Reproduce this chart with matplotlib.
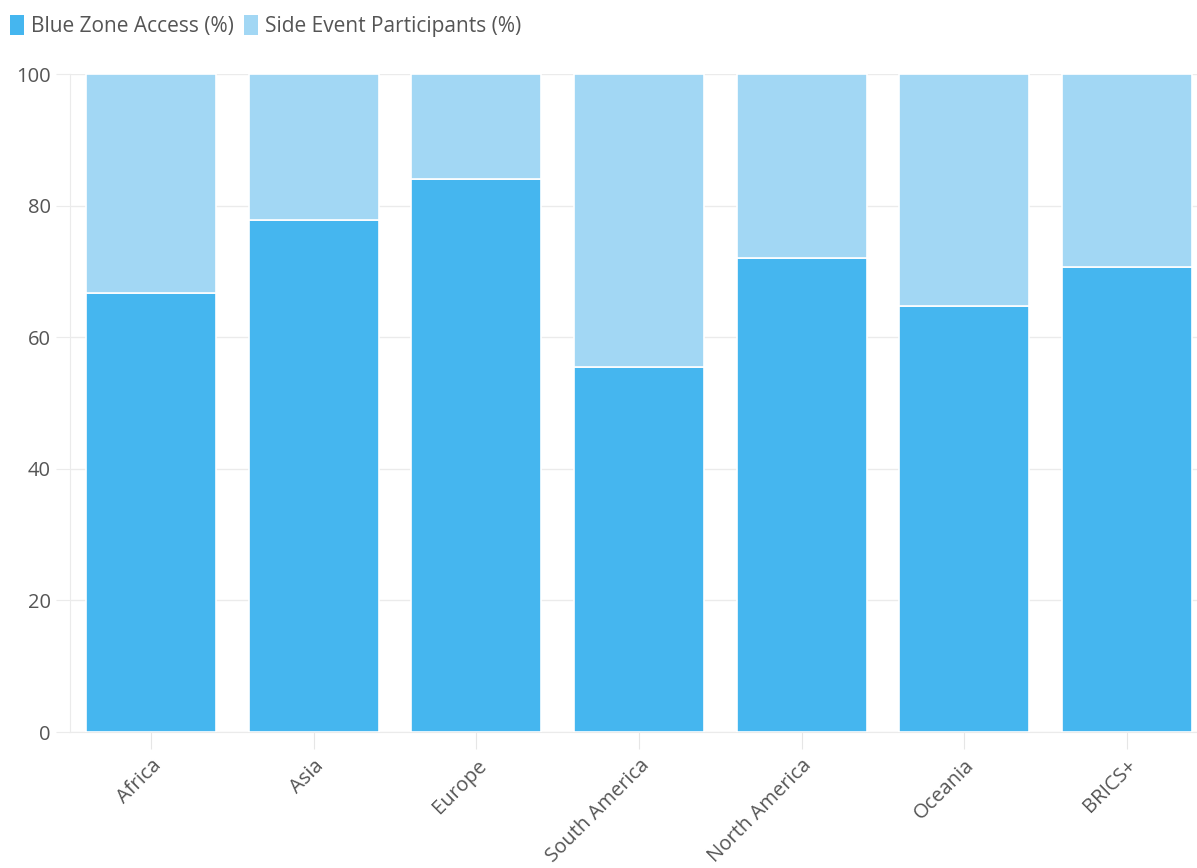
import matplotlib.pyplot as plt
from matplotlib.patches import Patch
import numpy as np

# regions and shares (%)
regions = ["Africa", "Asia", "Europe", "South America", "North America", "Oceania", "BRICS+"]
blue_zone = [66.7, 77.8, 84.1, 55.4, 72.1, 64.7, 70.6]
side_event = [33.3, 22.2, 15.9, 44.6, 27.9, 35.3, 29.4]

c_blue = "#45b6ef"
c_light = "#a2d7f4"
txt = "#555555"

plt.rcParams["font.family"] = ["Open Sans", "DejaVu Sans"]

fig = plt.figure(figsize=(11.97, 8.68), dpi=100)
ax = fig.add_axes([70 / 1197, 136 / 868, 1138 / 1197, 658 / 868])

x = np.arange(len(regions))
ax.bar(x, blue_zone, width=0.8, color=c_blue, edgecolor="white", linewidth=1.2, zorder=3)
ax.bar(x, side_event, width=0.8, bottom=blue_zone, color=c_light, edgecolor="white",
       linewidth=1.2, zorder=3)

ax.set_xlim(-0.5, len(regions) - 0.5)
ax.set_ylim(0, 100)
ax.set_yticks(range(0, 101, 20))
ax.yaxis.grid(True, color="#ebebeb", linewidth=1, zorder=0)
ax.tick_params(axis="y", length=10, color="#ebebeb", labelsize=14.5, labelcolor=txt, pad=4)
ax.tick_params(axis="x", length=12, color="#e6e6e6", labelsize=14.5, labelcolor=txt, pad=5)
ax.set_xticks(x)
ax.set_xticklabels(regions, rotation=45, ha="right", va="top", rotation_mode="anchor")

for side in ["top", "right"]:
    ax.spines[side].set_visible(False)
ax.spines["left"].set_color("#ebebeb")
ax.spines["bottom"].set_color("#ebebeb")

handles = [Patch(facecolor=c_blue, label="Blue Zone Access (%)"),
           Patch(facecolor=c_light, label="Side Event Participants (%)")]
fig.legend(handles=handles, loc="upper left", bbox_to_anchor=(10 / 1197, 1 - 15 / 868), ncol=2,
           frameon=False, fontsize=15, handlelength=0.65, handleheight=1.1,
           handletextpad=0.35, columnspacing=0.5, labelcolor=txt,
           borderaxespad=0, borderpad=0)

fig.savefig("out.png", dpi=100)
